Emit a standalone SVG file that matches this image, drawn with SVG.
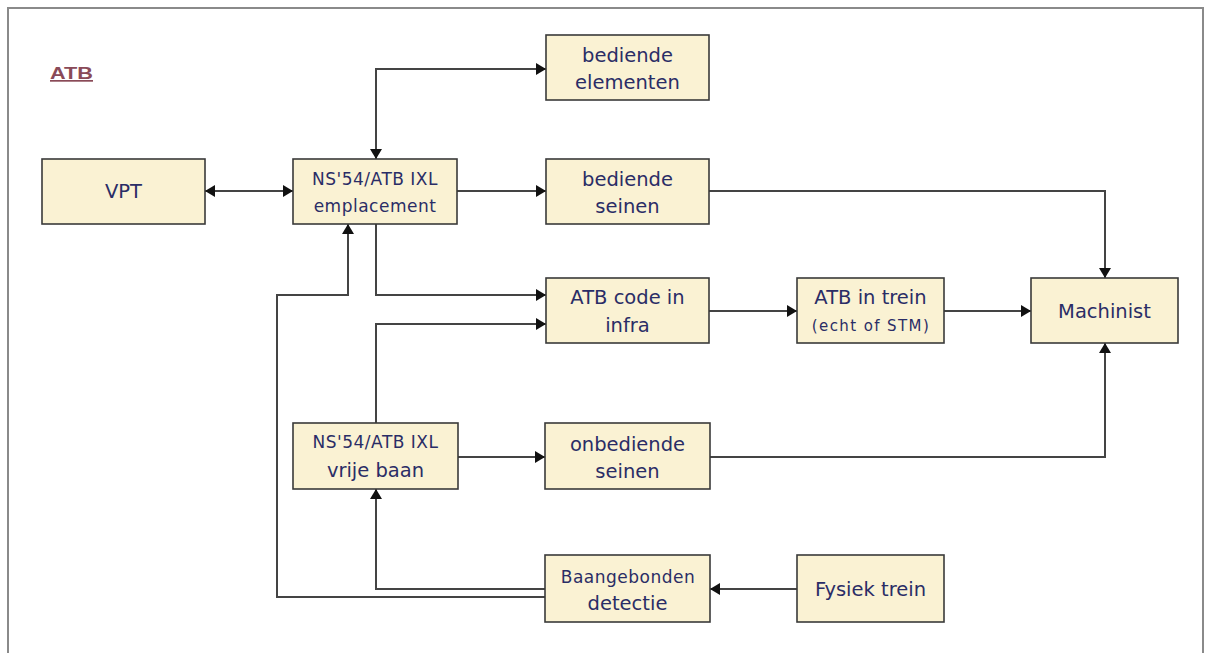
<svg xmlns="http://www.w3.org/2000/svg" width="1205" height="653" viewBox="0 0 1205 653">
<style>
.box{fill:#FAF2D3;stroke:#3a3a3a;stroke-width:1.6}
.t{font-family:"DejaVu Sans",sans-serif;font-size:19.5px;fill:#2a2d66;text-anchor:middle}
.s{font-family:"DejaVu Sans",sans-serif;font-size:17px;fill:#2a2d66;text-anchor:middle;letter-spacing:0.5px}
.xs{font-family:"DejaVu Sans",sans-serif;font-size:15px;fill:#2a2d66;text-anchor:middle;letter-spacing:1.4px}
.c{fill:none;stroke:#444;stroke-width:2}
</style>
<defs>
<marker id="ah" viewBox="0 0 10 12" refX="10" refY="6" markerWidth="10" markerHeight="12" markerUnits="userSpaceOnUse" orient="auto-start-reverse">
<path d="M0,0 L10,6 L0,12 z" fill="#111"/>
</marker>
</defs>
<rect x="0" y="0" width="1205" height="653" fill="#fff"/>
<path d="M8,653 V8 H1203 V653" fill="none" stroke="#8a8a8a" stroke-width="2"/>
<text x="50" y="79" font-family="Liberation Sans, sans-serif" font-weight="bold" font-size="17" fill="#8a4a58" text-decoration="underline" textLength="43" lengthAdjust="spacingAndGlyphs">ATB</text>

<g id="connectors">
<path class="c" d="M205,191 H293" marker-start="url(#ah)" marker-end="url(#ah)"/>
<path class="c" d="M376,159 V69 H546" marker-start="url(#ah)" marker-end="url(#ah)"/>
<path class="c" d="M457,191 H546" marker-end="url(#ah)"/>
<path class="c" d="M709,191 H1105 V278" marker-end="url(#ah)"/>
<path class="c" d="M376,224 V295 H546" marker-end="url(#ah)"/>
<path class="c" d="M376,423 V324 H546" marker-end="url(#ah)"/>
<path class="c" d="M709,311 H797" marker-end="url(#ah)"/>
<path class="c" d="M944,311 H1031" marker-end="url(#ah)"/>
<path class="c" d="M458,457 H545" marker-end="url(#ah)"/>
<path class="c" d="M710,457 H1105 V343" marker-end="url(#ah)"/>
<path class="c" d="M545,589 H376 V489" marker-end="url(#ah)"/>
<path class="c" d="M545,597 H277 V295 H348 V224" marker-end="url(#ah)"/>
<path class="c" d="M797,589 H710" marker-end="url(#ah)"/>
</g>

<g id="vpt"><rect class="box" x="42" y="159" width="163" height="65"/><text class="t" x="123.5" y="198">VPT</text></g>
<g id="emplacement"><rect class="box" x="293" y="159" width="164" height="65"/><text class="s" x="375" y="185">NS'54/ATB IXL</text><text class="s" x="375" y="212">emplacement</text></g>
<g id="bediende-elementen"><rect class="box" x="546" y="35" width="163" height="65"/><text class="t" x="627.5" y="62">bediende</text><text class="t" x="627.5" y="89">elementen</text></g>
<g id="bediende-seinen"><rect class="box" x="546" y="159" width="163" height="65"/><text class="t" x="627.5" y="186">bediende</text><text class="t" x="627.5" y="213">seinen</text></g>
<g id="atb-code"><rect class="box" x="546" y="278" width="163" height="65"/><text class="t" x="627.5" y="304">ATB code in</text><text class="t" x="627.5" y="332">infra</text></g>
<g id="atb-trein"><rect class="box" x="797" y="278" width="147" height="65"/><text class="t" x="870.5" y="304">ATB in trein</text><text class="xs" x="871" y="331">(echt of STM)</text></g>
<g id="machinist"><rect class="box" x="1031" y="278" width="147" height="65"/><text class="t" x="1104.5" y="318">Machinist</text></g>
<g id="vrije-baan"><rect class="box" x="293" y="423" width="165" height="66"/><text class="s" x="375.5" y="448">NS'54/ATB IXL</text><text class="t" x="375.5" y="477">vrije baan</text></g>
<g id="onbediende"><rect class="box" x="545" y="423" width="165" height="66"/><text class="t" x="627.5" y="451">onbediende</text><text class="t" x="627.5" y="478">seinen</text></g>
<g id="baangebonden"><rect class="box" x="545" y="555" width="165" height="67"/><text class="s" x="628" y="583">Baangebonden</text><text class="t" x="627.5" y="610">detectie</text></g>
<g id="fysiek"><rect class="box" x="797" y="555" width="147" height="67"/><text class="t" x="870.5" y="596">Fysiek trein</text></g>
</svg>
